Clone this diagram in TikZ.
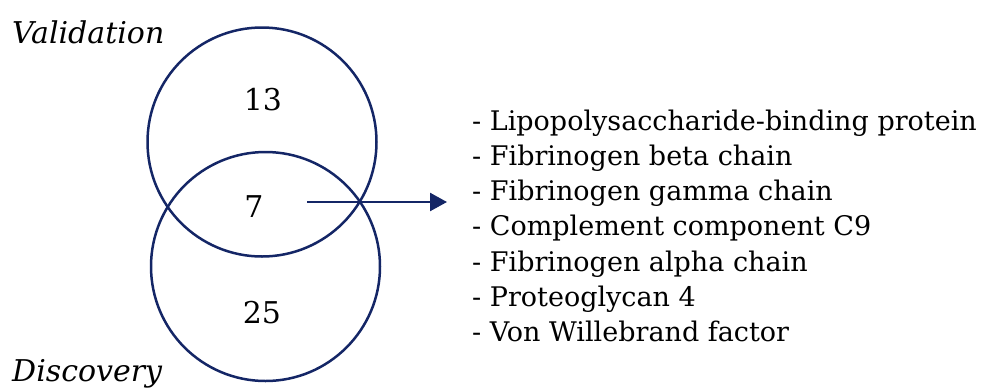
\documentclass[tikz,border=0pt]{standalone}
\usepackage{fontspec}
\setmainfont{DejaVu Serif}
\usepackage{xcolor}
\usetikzlibrary{arrows.meta}
\definecolor{vennblue}{RGB}{20,38,102}
\tikzset{
  venncircle/.style={circle,draw=vennblue,line width=2.5pt,minimum size=229pt,inner sep=0pt},
  setlabel/.style={anchor=base west,inner sep=0pt,font=\fontsize{30}{36}\selectfont\itshape},
  countlabel/.style={anchor=base,inner sep=0pt,font=\fontsize{30}{36}\selectfont},
  listitem/.style={anchor=base west,inner sep=0pt,font=\fontsize{27}{30}\selectfont}
}
\begin{document}
\begin{tikzpicture}[x=1pt,y=-1pt]
\useasboundingbox (0,0) rectangle (990,389);
% the two sets
\node[venncircle] (valid) at (262,142) {};
\node[venncircle] (disc) at (265.5,266.5) {};
\node[setlabel] (validname) at (12,43) {Validation};
\node[setlabel] (discname) at (12,381) {Discovery};
% counts
\node[countlabel] (onlyvalid) at (263,110) {13};
\node[countlabel] (both) at (254,217) {7};
\node[countlabel] (onlydisc) at (262,323) {25};
% arrow to the shared proteins
\coordinate (arrowstart) at (307,202);
\coordinate (arrowtip) at (447,202);
\draw[vennblue,line width=2.5pt,-{Triangle[length=17pt,width=18pt]}] (arrowstart)--(arrowtip);
\foreach \protein [count=\i] in {Lipopolysaccharide-binding protein,Fibrinogen beta chain,Fibrinogen gamma chain,Complement component C9,Fibrinogen alpha chain,Proteoglycan 4,Von Willebrand factor}
  \node[listitem] (item\i) at (472,{130+35.3*(\i-1)}) {- \protein};
\end{tikzpicture}
\end{document}
